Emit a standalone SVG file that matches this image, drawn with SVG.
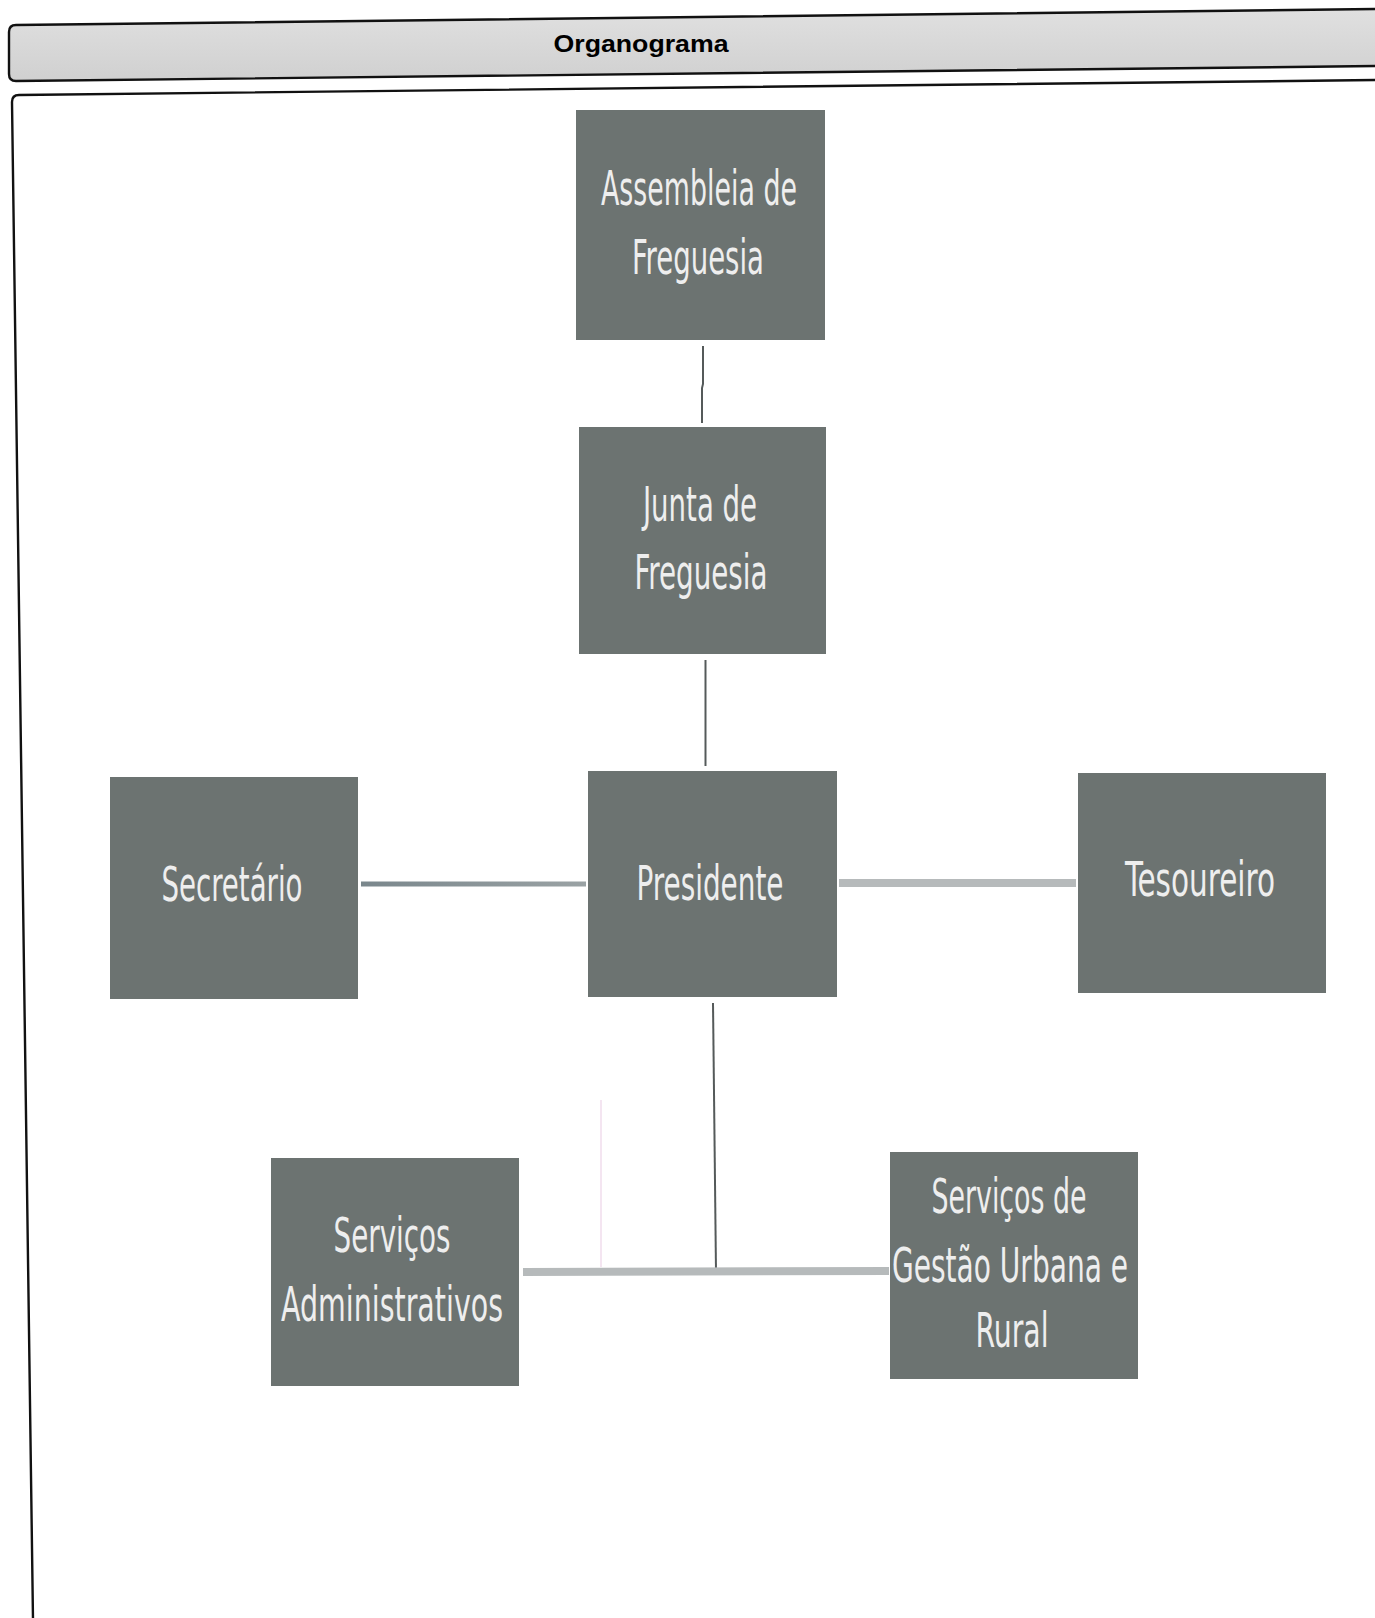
<svg xmlns="http://www.w3.org/2000/svg" width="1375" height="1618" viewBox="0 0 1375 1618">
<style>
.box{fill:#6c7371;}
.lbl{font-family:"Liberation Sans Narrow","DejaVu Sans Condensed","DejaVu Sans",sans-serif;font-size:48px;fill:#eeeeee;text-anchor:middle;}
.frame{fill:none;stroke:#111;stroke-width:2.4;}
.thin{stroke:#555a5a;stroke-width:2;fill:none;}
.bar{stroke:#b6babb;stroke-width:8;fill:none;}
</style>
<defs>
<linearGradient id="hdr" x1="0" y1="0" x2="0" y2="1">
<stop offset="0" stop-color="#e0e0e0"/>
<stop offset="1" stop-color="#d0d0d0"/>
</linearGradient>
<linearGradient id="secbar" gradientUnits="userSpaceOnUse" x1="361" y1="0" x2="586" y2="0">
<stop offset="0" stop-color="#7a878c"/>
<stop offset="1" stop-color="#9aa2a4"/>
</linearGradient>
</defs>
<rect x="0" y="0" width="1375" height="1618" fill="#ffffff"/>
<g id="header">
<path class="frame" d="M1380,9 L16,25 Q9,25 9,32 L9,74 Q9,81 16,81 L1380,66" style="fill:url(#hdr)"/>
<text x="641" y="52" font-family="Liberation Sans, Arial, sans-serif" font-weight="bold" font-size="24" fill="#000" text-anchor="middle" textLength="175" lengthAdjust="spacingAndGlyphs">Organograma</text>
</g>
<g id="main-frame">
<path class="frame" d="M1380,80 L19,95 Q12,95 12,102 L33,1620"/>
</g>
<g id="connectors">
<path class="thin" d="M703,346 L703,384 L702,388 L702,423"/>
<path class="thin" d="M705.5,660 L705.5,766"/>
<rect x="361" y="881.5" width="225" height="5" fill="url(#secbar)"/>
<line class="bar" x1="839" y1="883" x2="1076" y2="883"/>
<path class="thin" d="M713,1003 L716,1271"/>
<line class="bar" x1="523" y1="1272" x2="889" y2="1271"/>
<line x1="601" y1="1100" x2="601" y2="1267" stroke="#f0dcec" stroke-width="1.5"/>
</g>
<g id="assembleia">
<rect class="box" x="576" y="110" width="249" height="230"/>
<text class="lbl" x="699" y="205" textLength="196" lengthAdjust="spacingAndGlyphs">Assembleia de</text>
<text class="lbl" x="698" y="274" textLength="132" lengthAdjust="spacingAndGlyphs">Freguesia</text>
</g>
<g id="junta">
<rect class="box" x="579" y="427" width="247" height="227"/>
<text class="lbl" x="700" y="521" textLength="114" lengthAdjust="spacingAndGlyphs">Junta de</text>
<text class="lbl" x="701" y="589" textLength="133" lengthAdjust="spacingAndGlyphs">Freguesia</text>
</g>
<g id="presidente">
<rect class="box" x="588" y="771" width="249" height="226"/>
<text class="lbl" x="710" y="900" textLength="147" lengthAdjust="spacingAndGlyphs">Presidente</text>
</g>
<g id="secretario">
<rect class="box" x="110" y="777" width="248" height="222"/>
<text class="lbl" x="232" y="901" textLength="141" lengthAdjust="spacingAndGlyphs">Secretário</text>
</g>
<g id="tesoureiro">
<rect class="box" x="1078" y="773" width="248" height="220"/>
<text class="lbl" x="1200" y="896" textLength="150" lengthAdjust="spacingAndGlyphs">Tesoureiro</text>
</g>
<g id="servicos-administrativos">
<rect class="box" x="271" y="1158" width="248" height="228"/>
<text class="lbl" x="392" y="1252" textLength="117" lengthAdjust="spacingAndGlyphs">Serviços</text>
<text class="lbl" x="392" y="1321" textLength="222" lengthAdjust="spacingAndGlyphs">Administrativos</text>
</g>
<g id="servicos-gestao">
<rect class="box" x="890" y="1152" width="248" height="227"/>
<text class="lbl" x="1009" y="1213" textLength="155" lengthAdjust="spacingAndGlyphs">Serviços de</text>
<text class="lbl" x="1010" y="1282" textLength="236" lengthAdjust="spacingAndGlyphs">Gestão Urbana  e</text>
<text class="lbl" x="1012" y="1347" textLength="73" lengthAdjust="spacingAndGlyphs">Rural</text>
</g>
</svg>
